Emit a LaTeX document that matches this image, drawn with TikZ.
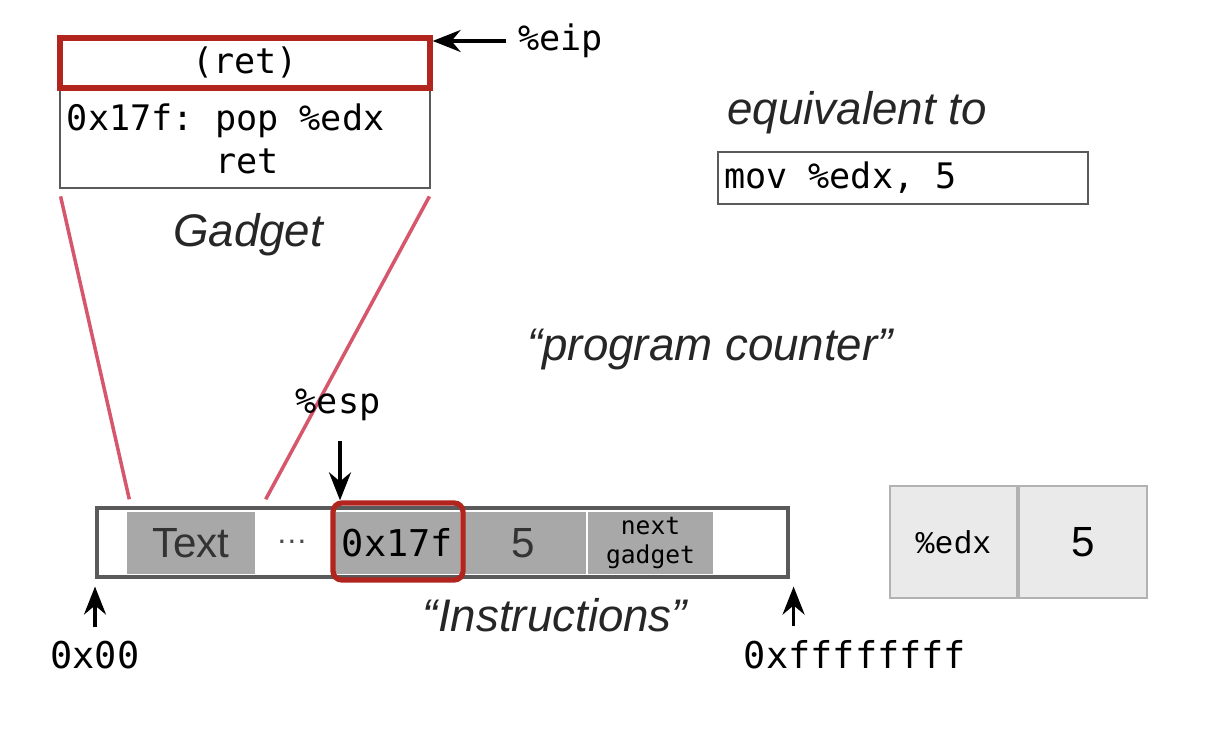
\documentclass[tikz,border=0pt]{standalone}
\usepackage{fontspec}
\setmainfont{Liberation Sans}
\setmonofont{DejaVu Sans Mono}
\newfontfamily\regfont{Liberation Mono}
\usetikzlibrary{calc, positioning}
\usetikzlibrary{arrows.meta}

\definecolor{gadgetred}{RGB}{178,36,30}
\definecolor{zoompink}{RGB}{214,86,108}
\definecolor{cellgray}{RGB}{168,168,168}
\definecolor{reggray}{RGB}{234,234,234}
\definecolor{framegray}{RGB}{90,90,90}

% one full-width blank in the mono font
\newcommand{\ms}{\hspace*{\fontcharwd\font`0}}

\tikzset{
  codebox/.style={draw=framegray, line width=0.8pt, inner sep=0pt},
  memcell/.style={fill=cellgray, minimum width=1.25cm, minimum height=0.62cm, inner sep=0pt},
  hilite/.style={draw=gadgetred, line width=1.5pt},
  caption/.style={font=\fontsize{13}{15}\selectfont\itshape, text=black!85},
  mono/.style={font=\fontsize{10}{12}\selectfont\ttfamily},
  pointer/.style={-{Stealth[length=2.8mm, width=2.2mm]}, line width=0.9pt},
}

\begin{document}
\begin{tikzpicture}
\useasboundingbox (0,0) rectangle (12.1,7.34);

% the gadget
\node[codebox, mono, minimum width=3.70cm, minimum height=0.98cm, text width=3.56cm, align=left] (body) at (2.45,5.95)
  {0x17f:\ms pop\ms\%edx\\\phantom{0x17f:}\ms ret};
\node[codebox, hilite, mono, minimum width=3.70cm, minimum height=0.50cm, above=0pt of body, yshift=-0.02cm] (ret) {(ret)};
\node[caption] (gadgetlbl) at (2.48,4.99) {Gadget};

\node[mono, anchor=west] (eip) at (5.06,6.93) {\%eip};
\draw[pointer] (eip.west) -- (eip.west -| ret.east);

% memory
\node[draw=framegray, line width=0.9pt, minimum width=6.91cm, minimum height=0.69cm, inner sep=0pt] (strip) at (4.425,1.915) {};
\node[memcell, minimum width=1.28cm, font=\fontsize{12}{14}\selectfont, text=black!80] (txt) at (1.91,1.91) {Text};
\node[font=\small, text=black!70] (dots) at (2.92,1.92) {\dots};
\node[memcell, font=\fontsize{10.5}{12}\selectfont\ttfamily] (addr) at (3.975,1.91) {0x17f};
\node[memcell, font=\fontsize{12}{14}\selectfont, text=black!80] (val) at (5.235,1.91) {5};
\node[memcell, align=center, font=\fontsize{7}{8.5}\selectfont\ttfamily] (next) at (6.505,1.91) {next\\gadget};
\node[hilite, rounded corners=2.5pt, minimum width=1.30cm, minimum height=0.77cm, inner sep=0pt] (hl) at (3.98,1.925) {};

% zoom lines
\draw[zoompink, line width=1pt] ($(body.south west)+(0.02,-0.07)$) -- ($(txt.north west)+(0.03,0.12)$);
\draw[zoompink, line width=1pt] ($(body.south east)+(-0.02,-0.07)$) -- ($(txt.north east)+(0.10,0.12)$);

\node[mono] (esp) at (3.38,3.29) {\%esp};
\draw[pointer, shorten <=0.08cm] ($(esp.south)+(0.02,0)$) -- ($(esp.south |- hl.north)+(0.02,0)$);

% address ends
\node[font=\fontsize{10.5}{12}\selectfont\ttfamily] (lo) at (0.95,0.79) {0x00};
\node[font=\fontsize{10.5}{12}\selectfont\ttfamily] (hi) at (8.55,0.79) {0xffffffff};
\coordinate (hiend) at ($(strip.south east)+(0.04,0)$);
\draw[pointer, shorten <=0.02cm, shorten >=0.08cm] (lo.north) -- (lo.north |- strip.south);
\draw[pointer, shorten <=0.02cm, shorten >=0.08cm] (hiend |- hi.north) -- (hiend);

\node[caption] (instr) at (5.55,1.19) {“Instructions”};
\node[caption] (pc) at (7.10,3.84) {“program counter”};

% equivalent instruction
\node[caption] (equiv) at (8.57,6.21) {equivalent to};
\node[codebox, mono, minimum width=3.70cm, minimum height=0.52cm, text width=3.58cm, align=left] (mov) at (9.03,5.56) {mov\ms\%edx,\ms 5};

% register
\node[draw=black!30, fill=reggray, line width=0.6pt, minimum width=1.27cm, minimum height=1.12cm, font=\fontsize{9}{11}\selectfont\regfont] (reg) at (9.535,1.92) {\%edx};
\node[draw=black!30, fill=reggray, line width=0.6pt, minimum width=1.28cm, minimum height=1.12cm, font=\fontsize{12}{14}\selectfont, right=0pt of reg] (regval) {5};
\end{tikzpicture}
\end{document}
